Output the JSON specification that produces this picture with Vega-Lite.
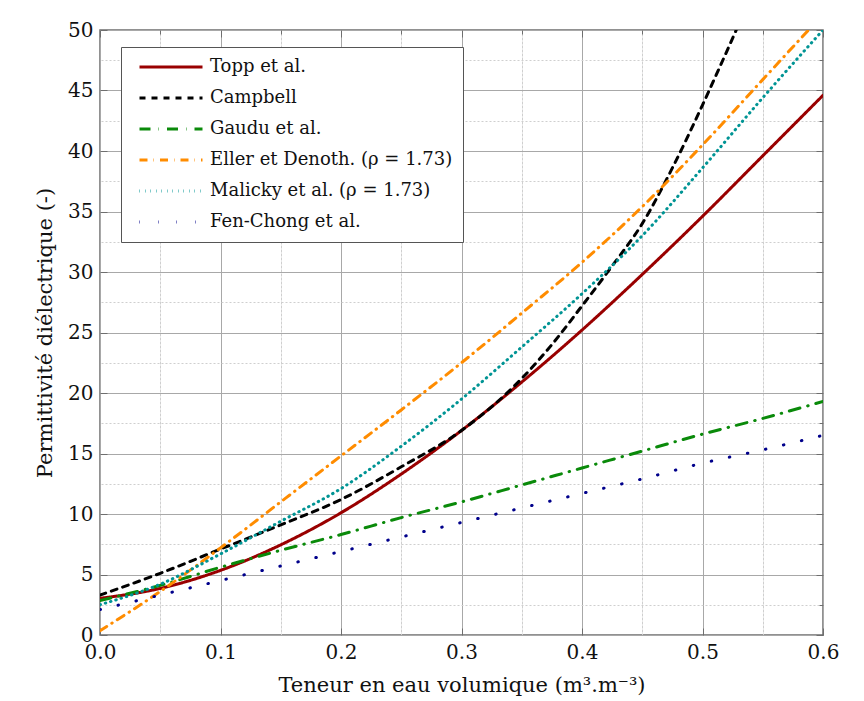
{
  "$schema": "https://vega.github.io/schema/vega-lite/v6.json",
  "width": 723,
  "height": 605,
  "autosize": {"type": "none"},
  "padding": {"left": 100, "top": 30, "right": 41, "bottom": 66},
  "background": "white",
  "config": {
    "view": {"stroke": "#6e6e6e", "strokeWidth": 1.5},
    "font": "DejaVu Serif",
    "axis": {"domain": false, "labelFont": "DejaVu Serif", "titleFont": "DejaVu Serif", "labelColor": "#111", "titleColor": "#111", "titleFontWeight": "normal", "tickColor": "#6e6e6e"},
    "legend": {"labelFont": "DejaVu Serif", "titleFont": "DejaVu Serif"}
  },
  "data": {"values": [
    {"model": "Topp et al.", "theta": 0.0, "eps": 3.03},
    {"model": "Topp et al.", "theta": 0.05, "eps": 3.85},
    {"model": "Topp et al.", "theta": 0.1, "eps": 5.34},
    {"model": "Topp et al.", "theta": 0.15, "eps": 7.45},
    {"model": "Topp et al.", "theta": 0.2, "eps": 10.1},
    {"model": "Topp et al.", "theta": 0.25, "eps": 13.3},
    {"model": "Topp et al.", "theta": 0.3, "eps": 16.9},
    {"model": "Topp et al.", "theta": 0.35, "eps": 20.9},
    {"model": "Topp et al.", "theta": 0.4, "eps": 25.2},
    {"model": "Topp et al.", "theta": 0.45, "eps": 29.8},
    {"model": "Topp et al.", "theta": 0.5, "eps": 34.6},
    {"model": "Topp et al.", "theta": 0.55, "eps": 39.6},
    {"model": "Topp et al.", "theta": 0.6, "eps": 44.6},
    {"model": "Campbell", "theta": 0.0, "eps": 3.3},
    {"model": "Campbell", "theta": 0.05, "eps": 5.1},
    {"model": "Campbell", "theta": 0.1, "eps": 7.1},
    {"model": "Campbell", "theta": 0.15, "eps": 9.1},
    {"model": "Campbell", "theta": 0.2, "eps": 11.2},
    {"model": "Campbell", "theta": 0.25, "eps": 13.9},
    {"model": "Campbell", "theta": 0.3, "eps": 16.9},
    {"model": "Campbell", "theta": 0.35, "eps": 21.2},
    {"model": "Campbell", "theta": 0.375, "eps": 24.0},
    {"model": "Campbell", "theta": 0.4, "eps": 27.2},
    {"model": "Campbell", "theta": 0.425, "eps": 30.5},
    {"model": "Campbell", "theta": 0.45, "eps": 34.0},
    {"model": "Campbell", "theta": 0.475, "eps": 38.6},
    {"model": "Campbell", "theta": 0.5, "eps": 43.8},
    {"model": "Campbell", "theta": 0.528, "eps": 50.0},
    {"model": "Gaudu et al.", "theta": 0.0, "eps": 2.85},
    {"model": "Gaudu et al.", "theta": 0.05, "eps": 4.1},
    {"model": "Gaudu et al.", "theta": 0.1, "eps": 5.6},
    {"model": "Gaudu et al.", "theta": 0.15, "eps": 7.0},
    {"model": "Gaudu et al.", "theta": 0.2, "eps": 8.3},
    {"model": "Gaudu et al.", "theta": 0.25, "eps": 9.7},
    {"model": "Gaudu et al.", "theta": 0.3, "eps": 11.0},
    {"model": "Gaudu et al.", "theta": 0.35, "eps": 12.4},
    {"model": "Gaudu et al.", "theta": 0.4, "eps": 13.8},
    {"model": "Gaudu et al.", "theta": 0.45, "eps": 15.2},
    {"model": "Gaudu et al.", "theta": 0.5, "eps": 16.6},
    {"model": "Gaudu et al.", "theta": 0.55, "eps": 17.9},
    {"model": "Gaudu et al.", "theta": 0.6, "eps": 19.3},
    {"model": "Eller et Denoth. (ρ = 1.73)", "theta": 0.0, "eps": 0.35},
    {"model": "Eller et Denoth. (ρ = 1.73)", "theta": 0.05, "eps": 3.6},
    {"model": "Eller et Denoth. (ρ = 1.73)", "theta": 0.1, "eps": 7.2},
    {"model": "Eller et Denoth. (ρ = 1.73)", "theta": 0.15, "eps": 11.0},
    {"model": "Eller et Denoth. (ρ = 1.73)", "theta": 0.2, "eps": 14.8},
    {"model": "Eller et Denoth. (ρ = 1.73)", "theta": 0.25, "eps": 18.6},
    {"model": "Eller et Denoth. (ρ = 1.73)", "theta": 0.3, "eps": 22.5},
    {"model": "Eller et Denoth. (ρ = 1.73)", "theta": 0.35, "eps": 26.6},
    {"model": "Eller et Denoth. (ρ = 1.73)", "theta": 0.4, "eps": 30.8},
    {"model": "Eller et Denoth. (ρ = 1.73)", "theta": 0.45, "eps": 35.4},
    {"model": "Eller et Denoth. (ρ = 1.73)", "theta": 0.5, "eps": 40.5},
    {"model": "Eller et Denoth. (ρ = 1.73)", "theta": 0.55, "eps": 45.9},
    {"model": "Eller et Denoth. (ρ = 1.73)", "theta": 0.588, "eps": 50.0},
    {"model": "Malicky et al. (ρ = 1.73)", "theta": 0.0, "eps": 2.5},
    {"model": "Malicky et al. (ρ = 1.73)", "theta": 0.05, "eps": 4.2},
    {"model": "Malicky et al. (ρ = 1.73)", "theta": 0.1, "eps": 6.7},
    {"model": "Malicky et al. (ρ = 1.73)", "theta": 0.15, "eps": 9.4},
    {"model": "Malicky et al. (ρ = 1.73)", "theta": 0.2, "eps": 12.1},
    {"model": "Malicky et al. (ρ = 1.73)", "theta": 0.25, "eps": 15.6},
    {"model": "Malicky et al. (ρ = 1.73)", "theta": 0.3, "eps": 19.5},
    {"model": "Malicky et al. (ρ = 1.73)", "theta": 0.35, "eps": 23.8},
    {"model": "Malicky et al. (ρ = 1.73)", "theta": 0.4, "eps": 28.2},
    {"model": "Malicky et al. (ρ = 1.73)", "theta": 0.45, "eps": 33.0},
    {"model": "Malicky et al. (ρ = 1.73)", "theta": 0.5, "eps": 38.6},
    {"model": "Malicky et al. (ρ = 1.73)", "theta": 0.55, "eps": 44.4},
    {"model": "Malicky et al. (ρ = 1.73)", "theta": 0.6, "eps": 50.0},
    {"model": "Fen-Chong et al.", "theta": 0.0, "eps": 2.1},
    {"model": "Fen-Chong et al.", "theta": 0.05, "eps": 3.3},
    {"model": "Fen-Chong et al.", "theta": 0.1, "eps": 4.5},
    {"model": "Fen-Chong et al.", "theta": 0.15, "eps": 5.7},
    {"model": "Fen-Chong et al.", "theta": 0.2, "eps": 6.9},
    {"model": "Fen-Chong et al.", "theta": 0.25, "eps": 8.1},
    {"model": "Fen-Chong et al.", "theta": 0.3, "eps": 9.3},
    {"model": "Fen-Chong et al.", "theta": 0.35, "eps": 10.5},
    {"model": "Fen-Chong et al.", "theta": 0.4, "eps": 11.7},
    {"model": "Fen-Chong et al.", "theta": 0.45, "eps": 12.9},
    {"model": "Fen-Chong et al.", "theta": 0.5, "eps": 14.2},
    {"model": "Fen-Chong et al.", "theta": 0.55, "eps": 15.3},
    {"model": "Fen-Chong et al.", "theta": 0.6, "eps": 16.5}
  ]},
  "layer": [
    {
      "mark": {"type": "line", "strokeOpacity": 0},
      "encoding": {
        "x": {"field": "theta", "type": "quantitative", "scale": {"domain": [0, 0.6], "nice": false, "zero": false},
          "axis": {"orient": "top", "values": [0, 0.05, 0.1, 0.15, 0.2, 0.25, 0.3, 0.35, 0.4, 0.45, 0.5, 0.55, 0.6], "labels": false, "title": null,
            "grid": true, "gridColor": "#cfcfcf", "gridDash": [2, 2], "gridWidth": 1,
            "tickSize": {"condition": {"test": "abs(datum.value*10 - round(datum.value*10)) < 0.001", "value": -7}, "value": -4}}},
        "y": {"field": "eps", "type": "quantitative", "scale": {"domain": [0, 50], "nice": false},
          "axis": {"orient": "right", "values": [0, 2.5, 5, 7.5, 10, 12.5, 15, 17.5, 20, 22.5, 25, 27.5, 30, 32.5, 35, 37.5, 40, 42.5, 45, 47.5, 50], "labels": false, "title": null,
            "grid": true, "gridColor": "#cfcfcf", "gridDash": [2, 2], "gridWidth": 1,
            "tickSize": {"condition": {"test": "abs(datum.value/5 - round(datum.value/5)) < 0.001", "value": -7}, "value": -4}}},
        "detail": {"field": "model"}
      }
    },
    {
      "mark": {"type": "line", "strokeCap": "round", "clip": true, "interpolate": "monotone"},
      "encoding": {
        "x": {"field": "theta", "type": "quantitative", "scale": {"domain": [0, 0.6], "nice": false, "zero": false},
          "axis": {"orient": "bottom", "values": [0, 0.05, 0.1, 0.15, 0.2, 0.25, 0.3, 0.35, 0.4, 0.45, 0.5, 0.55, 0.6], "format": ".1f",
            "labelExpr": "abs(datum.value*10 - round(datum.value*10)) < 0.001 ? datum.label : ''",
            "grid": true, "gridColor": {"condition": {"test": "abs(datum.value*10 - round(datum.value*10)) < 0.001", "value": "#a8a8a8"}, "value": "#cfcfcf"},
            "gridDash": {"condition": {"test": "abs(datum.value*10 - round(datum.value*10)) < 0.001", "value": []}, "value": [2, 2]},
            "tickSize": -7, "tickOpacity": {"condition": {"test": "abs(datum.value*10 - round(datum.value*10)) < 0.001", "value": 1}, "value": 0},
            "labelPadding": 14, "labelFontSize": 20, "labelFlush": false,
            "title": "Teneur en eau volumique (m³.m⁻³)", "titleFontSize": 21, "titlePadding": 12}},
        "y": {"field": "eps", "type": "quantitative", "scale": {"domain": [0, 50], "nice": false},
          "axis": {"orient": "left", "values": [0, 5, 10, 15, 20, 25, 30, 35, 40, 45, 50],
            "grid": true, "gridColor": "#a8a8a8", "gridWidth": 1,
            "tickSize": -7, "labelPadding": 14, "labelFontSize": 20, "labelFlush": false,
            "title": "Permittivité diélectrique (-)", "titleFontSize": 21, "titlePadding": 12}},
        "color": {"field": "model", "type": "nominal",
          "scale": {"domain": ["Topp et al.", "Campbell", "Gaudu et al.", "Eller et Denoth. (ρ = 1.73)", "Malicky et al. (ρ = 1.73)", "Fen-Chong et al."],
            "range": ["#990000", "#000000", "#0a8a0a", "#ff8c00", "#009494", "#00008b"]},
          "legend": {"title": null, "orient": "none", "legendX": 21, "legendY": 17, "strokeColor": "#555555", "fillColor": "white", "padding": 10,
            "labelFont": "DejaVu Serif", "labelFontSize": 18, "labelColor": "#111", "symbolSize": 3969, "symbolStrokeWidth": 3, "symbolType": "stroke",
            "clipHeight": 20, "rowPadding": 11, "labelOffset": 6, "symbolOffset": 7, "labelLimit": 400}},
        "strokeDash": {"field": "model", "type": "nominal",
          "scale": {"domain": ["Topp et al.", "Campbell", "Gaudu et al.", "Eller et Denoth. (ρ = 1.73)", "Malicky et al. (ρ = 1.73)", "Fen-Chong et al."],
            "range": [[1, 0], [6, 6], [11, 8, 0.5, 8], [8, 6, 0.5, 6], [0.5, 5], [0.5, 18]]},
          "legend": null},
        "strokeWidth": {"field": "model", "type": "nominal",
          "scale": {"domain": ["Topp et al.", "Campbell", "Gaudu et al.", "Eller et Denoth. (ρ = 1.73)", "Malicky et al. (ρ = 1.73)", "Fen-Chong et al."],
            "range": [3, 3, 3.2, 2.6, 3.2, 5]},
          "legend": null}
      }
    }
  ]
}
